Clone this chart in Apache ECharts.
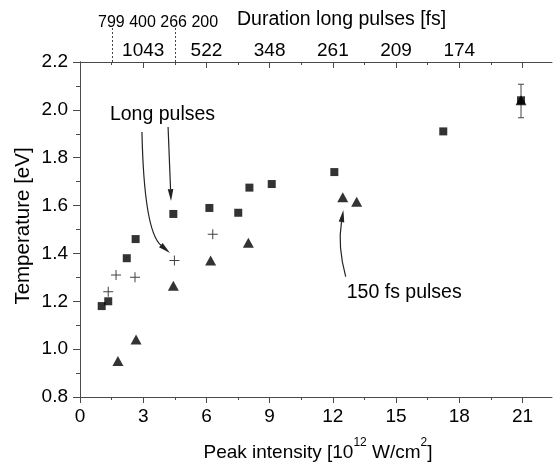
<!DOCTYPE html>
<html><head><meta charset="utf-8">
<script src="https://cdn.jsdelivr.net/npm/echarts@6/dist/echarts.min.js"></script>
<style>html,body{margin:0;padding:0;background:#fff}#c{width:554px;height:462px}</style>
</head><body><div id="c"></div>
<script>
// ---- data (x = peak intensity [1e12 W/cm2], y = temperature [eV]) ----
const squares = [[1.03,1.18],[1.34,1.20],[2.22,1.38],[2.64,1.46],[4.43,1.565],[6.14,1.59],[7.51,1.57],[8.04,1.675],[9.10,1.69],[12.07,1.74],[17.24,1.91],[20.93,2.04]];
const pluses = [[1.34,1.24],[1.71,1.31],[2.61,1.30],[4.48,1.37],[6.30,1.48]];
const triangles = [[1.80,0.95],[2.66,1.04],[4.43,1.265],[6.20,1.37],[7.99,1.445],[12.47,1.635],[13.13,1.616],[20.93,2.04]];
const errorBars = [[20.93,1.967,2.107]];
const xMajorTicks = [0,3,6,9,12,15,18,21];
const xMinorTicks = [1.5,4.5,7.5,10.5,13.5,16.5,19.5];
const topLabelPositions = [3,6,9,12,15,18];
const topLabels = ['1043','522','348','261','209','174'];
const smallTopLabels = ['799','400','266','200'];
const dottedTickPositions = [1.5,4.5];
// annotations in data coordinates
const longLabel = {text:'Long pulses', x:1.42, y:1.978};
const shortLabel = {text:'150 fs pulses', x:12.66, y:1.235};
const arrows = [
  [[4.18,1.928],[4.25,1.77],[4.32,1.619]],
  [[2.94,1.907],[3.04,1.494],[4.27,1.402]],
  [[12.61,1.303],[12.22,1.428],[12.50,1.581]]
];

const FONT = '"Liberation Sans", Arial, Helvetica, sans-serif';
const AX = '#4a4a4a';
const chart = echarts.init(document.getElementById('c'), null, {renderer:'canvas'});
const xBase = {type:'value', min:0, max:22.4, splitLine:{show:false}, gridIndex:0};
const yBase = {type:'value', min:0.8, max:2.2, interval:0.2, splitLine:{show:false}};
chart.setOption({
  animation:false,
  backgroundColor:'#fff',
  grid:{left:80, top:62, right:2, bottom:65, containLabel:false},
  xAxis:[
    Object.assign({}, xBase, {position:'bottom', axisLine:{lineStyle:{color:AX,width:1}},
      axisTick:{customValues:xMajorTicks, length:6, lineStyle:{color:AX}},
      axisLabel:{customValues:xMajorTicks, fontSize:19, fontFamily:FONT, color:'#000', margin:10}}),
    Object.assign({}, xBase, {position:'bottom', axisLine:{show:false},
      axisTick:{customValues:xMinorTicks, length:3, lineStyle:{color:AX}}, axisLabel:{show:false}}),
    Object.assign({}, xBase, {position:'top', axisLine:{lineStyle:{color:AX,width:1}},
      axisTick:{customValues:xMajorTicks, inside:true, length:6, lineStyle:{color:AX}},
      axisLabel:{customValues:topLabelPositions, fontSize:19, fontFamily:FONT, color:'#000', margin:2,
        formatter:v=>{const i=topLabelPositions.indexOf(Math.round(v)); return i>=0?topLabels[i]:'';}}}),
    Object.assign({}, xBase, {position:'top', axisLine:{show:false},
      axisTick:{customValues:xMinorTicks, inside:true, length:3, lineStyle:{color:AX}}, axisLabel:{show:false}})
  ],
  yAxis:[
    Object.assign({}, yBase, {position:'left', axisLine:{lineStyle:{color:AX,width:1}},
      axisTick:{length:7, lineStyle:{color:AX}}, minorTick:{show:true, splitNumber:2, length:4, lineStyle:{color:AX}},
      axisLabel:{fontSize:19, fontFamily:FONT, color:'#000', margin:12, formatter:v=>v.toFixed(1)}}),
    Object.assign({}, yBase, {position:'right', axisLine:{lineStyle:{color:AX,width:1}},
      axisTick:{inside:true, length:6, lineStyle:{color:AX}}, minorTick:{show:true, splitNumber:2, length:3, lineStyle:{color:AX}},
      axisLabel:{show:false}})
  ],
  series:[
    {type:'custom', xAxisIndex:0, yAxisIndex:0, z:1, data:errorBars, encode:{x:0,y:[1,2]},
      renderItem:function(params, api){
        const x=api.value(0), lo=api.coord([x,api.value(1)]), hi=api.coord([x,api.value(2)]);
        const st={stroke:'#444', lineWidth:1};
        return {type:'group', children:[
          {type:'line', shape:{x1:lo[0],y1:lo[1],x2:hi[0],y2:hi[1]}, style:st},
          {type:'line', shape:{x1:lo[0]-3,y1:lo[1],x2:lo[0]+3,y2:lo[1]}, style:st},
          {type:'line', shape:{x1:hi[0]-3,y1:hi[1],x2:hi[0]+3,y2:hi[1]}, style:st}
        ]};
      }},
    {type:'scatter', name:'squares', xAxisIndex:0, yAxisIndex:0, z:2, data:squares, symbol:'rect', symbolSize:8,
      itemStyle:{color:'#000'}},
    {type:'scatter', name:'plus', xAxisIndex:0, yAxisIndex:0, z:2, data:pluses, symbolSize:10,
      symbol:'path://M4.5,0H5.5V4.5H10V5.5H5.5V10H4.5V5.5H0V4.5H4.5Z', itemStyle:{color:'#111'}},
    {type:'scatter', name:'triangles', xAxisIndex:0, yAxisIndex:0, z:3, data:triangles, symbol:'triangle', symbolSize:[11,10],
      itemStyle:{color:'#000'}}
  ]
});

function px(p){ return chart.convertToPixel({xAxisIndex:0, yAxisIndex:0}, p); }
const g = [];
// top axis titles
g.push({type:'text', left:98, top:15, style:{text:smallTopLabels.join(' '), font:'16px '+FONT, fill:'#000'}});
g.push({type:'text', left:237, top:10, style:{text:'Duration long pulses [fs]', font:'19.5px '+FONT, fill:'#000'}});
// dotted tick extensions
dottedTickPositions.forEach(v=>{
  const x = Math.round(px([v,2.2])[0])+0.5;
  g.push({type:'line', shape:{x1:x,y1:28,x2:x,y2:62}, style:{stroke:'#444', lineWidth:1, lineDash:[2,2]}});
});
// axis names
g.push({type:'text', x:318, y:449.5, style:{text:'{n|Peak intensity [10}{sup|12}{n| W/cm}{sup|2}{n|]}', fill:'#000',
  align:'center', verticalAlign:'middle',
  rich:{n:{fontSize:19, fontFamily:FONT, lineHeight:25, verticalAlign:'bottom', fill:'#000'},
        sup:{fontSize:12, fontFamily:FONT, lineHeight:12, verticalAlign:'top', fill:'#000'}}}});
g.push({type:'text', x:23, y:226, rotation:Math.PI/2, style:{text:'Temperature [eV]', font:'20.5px '+FONT, fill:'#000',
  align:'center', verticalAlign:'middle'}});
// annotations
[longLabel, shortLabel].forEach(a=>{
  const p = px([a.x,a.y]);
  g.push({type:'text', x:p[0], y:p[1], style:{text:a.text, font:'19.5px '+FONT, fill:'#000', verticalAlign:'middle'}});
});
arrows.forEach(a=>{
  const p0=px(a[0]), c=px(a[1]), p1=px(a[2]);
  const dx=p1[0]-c[0], dy=p1[1]-c[1], L=Math.hypot(dx,dy), ux=dx/L, uy=dy/L;
  const bx=p1[0]-ux*12, by=p1[1]-uy*12;
  g.push({type:'bezierCurve', shape:{x1:p0[0],y1:p0[1],cpx1:c[0],cpy1:c[1],x2:bx,y2:by}, style:{stroke:'#222', lineWidth:1.2, fill:null}});
  g.push({type:'polygon', shape:{points:[[p1[0],p1[1]],[bx-uy*2.8,by+ux*2.8],[bx+uy*2.8,by-ux*2.8]]}, style:{fill:'#222'}});
});
chart.setOption({graphic:g});
</script>
</body></html>
